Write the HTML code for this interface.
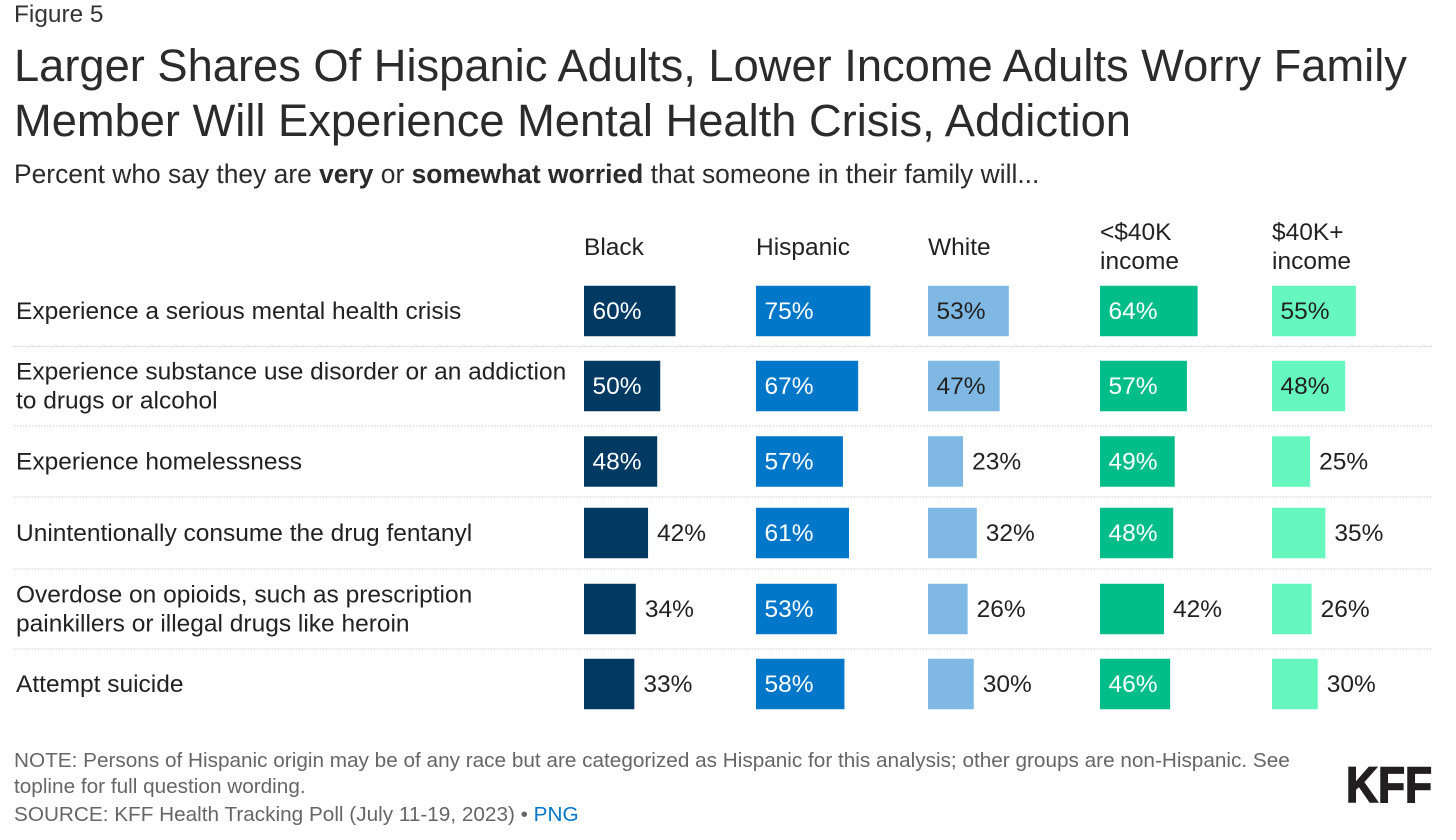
<!DOCTYPE html>
<html lang="en">
<head>
<meta charset="utf-8">
<title>KFF Figure 5</title>
<style>
html,body{margin:0;padding:0;background:#fff;width:1456px;height:840px;overflow:hidden}
svg{display:block;font-family:"Liberation Sans",Arial,sans-serif}
</style>
</head>
<body>
<svg id="chart" xmlns="http://www.w3.org/2000/svg" width="1456" height="840" viewBox="0 0 1456 840">
<rect width="1456" height="840" fill="#fff"></rect>
<text x="14" y="22" font-size="24.4" fill="#333">Figure 5</text>
<text x="14" y="81" font-size="45.27" fill="#2b2b2b">Larger Shares Of Hispanic Adults, Lower Income Adults Worry Family</text>
<text x="14" y="136" font-size="45.27" fill="#2b2b2b">Member Will Experience Mental Health Crisis, Addiction</text>
<text x="14" y="183" font-size="26.4" fill="#2b2b2b">Percent who say they are <tspan font-weight="bold">very</tspan> or <tspan font-weight="bold">somewhat worried</tspan> that someone in their family will...</text>
<g id="plot"></g>
<text x="14" y="767" font-size="20.74" fill="#666">NOTE: Persons of Hispanic origin may be of any race but are categorized as Hispanic for this analysis; other groups are non-Hispanic. See</text>
<text x="14" y="793" font-size="20.74" fill="#666">topline for full question wording.</text>
<text x="14" y="821" font-size="20.74" fill="#666">SOURCE: KFF Health Tracking Poll (July 11-19, 2023) • <tspan fill="#0077c8">PNG</tspan></text>
<text x="1346" y="802" font-size="50" font-weight="bold" fill="#231f20" stroke="#231f20" stroke-width="1.6" textLength="86" lengthAdjust="spacingAndGlyphs">KFF</text>
</svg>
<script>
const categories = [
  ["Experience a serious mental health crisis"],
  ["Experience substance use disorder or an addiction", "to drugs or alcohol"],
  ["Experience homelessness"],
  ["Unintentionally consume the drug fentanyl"],
  ["Overdose on opioids, such as prescription", "painkillers or illegal drugs like heroin"],
  ["Attempt suicide"]
];
const seriesNames = [["Black"], ["Hispanic"], ["White"], ["<$40K", "income"], ["$40K+", "income"]];
const black = [60, 50, 48, 42, 34, 33];
const hispanic = [75, 67, 57, 61, 53, 58];
const white = [53, 47, 23, 32, 26, 30];
const under40k = [64, 57, 49, 48, 42, 46];
const over40k = [55, 48, 25, 35, 26, 30];

const series = [black, hispanic, white, under40k, over40k];
const colors = ["#003a63", "#0077c8", "#7fb9e3", "#00bd8a", "#66f7bf"];
const valueColors = ["#fff", "#fff", "#222", "#fff", "#222"];
const insideMin = [45, 45, 45, 45, 45];

const plot = document.getElementById("plot");
const NS = "http://www.w3.org/2000/svg";
const colX = i => 584 + i * 172;
const barW = v => v * 1.525;
const rowCenters = [311, 386, 461.5, 533, 609, 684];
const barH = 50.5;
const sepYs = [346.5, 426, 497, 569, 649];

function mk(tag, attrs, text) {
  const el = document.createElementNS(NS, tag);
  for (const k in attrs) el.setAttribute(k, attrs[k]);
  if (text !== undefined) el.textContent = text;
  plot.appendChild(el);
  return el;
}

sepYs.forEach(y => {
  const line = mk("line", {x1: 14, x2: 1433, y1: y, y2: y, stroke: "#ccc", "stroke-width": 1, "stroke-dasharray": "1.5 1.5"});
  
  
});

seriesNames.forEach((lines, i) => {
  lines.forEach((t, j) => {
    const y = lines.length === 1 ? 255 : 240 + j * 29;
    const h = mk("text", {x: colX(i), y: y, "font-size": 24.5, fill: "#222"}, t);
    
    
  });
});

categories.forEach((lines, r) => {
  lines.forEach((t, j) => {
    const y = rowCenters[r] + 8 + (lines.length === 1 ? 0 : (j === 0 ? -14.5 : 14.5));
    const l = mk("text", {x: 16, y: y, "font-size": 24.5, fill: "#222"}, t);
    
    
  });
  series.forEach((vals, c) => {
    const v = vals[r];
    const w = barW(v);
    const b = mk("rect", {x: colX(c), y: rowCenters[r] - barH / 2, width: w, height: barH, fill: colors[c]});
    
    
    const inside = v >= insideMin[c];
    const tx = inside ? colX(c) + 8.5 : colX(c) + w + 9;
    const fill = inside ? valueColors[c] : "#222";
    const lab = mk("text", {x: tx, y: rowCenters[r] + 8, "font-size": 24.5, fill: fill}, v + "%");
    
    
  });
});
</script>
</body>
</html>
